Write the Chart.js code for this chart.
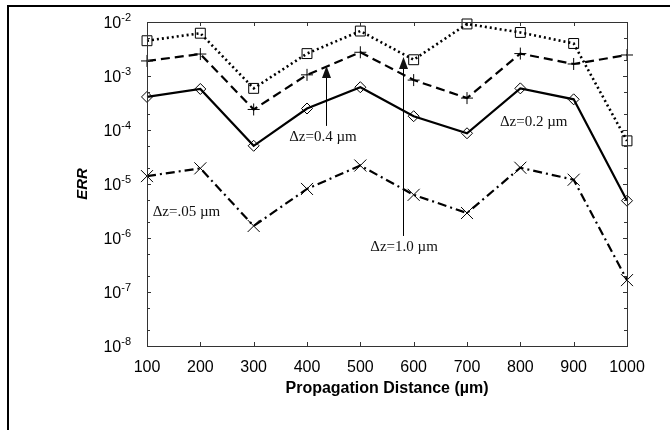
<!DOCTYPE html>
<html>
<head>
<meta charset="utf-8">
<script src="https://cdn.jsdelivr.net/npm/chart.js@4/dist/chart.umd.min.js"></script>
<style>
  body { margin: 0; background: #fff; }
  canvas { display: block; }
</style>
</head>
<body>
<canvas id="errChart" width="670" height="430"></canvas>
<script>
// propagation distances (um)
const distances = [100, 200, 300, 400, 500, 600, 700, 800, 900, 1000];

// ERR for each step size
const errDz10 = [4.5e-3, 6.2e-3, 5.9e-4, 2.6e-3, 6.8e-3, 2.0e-3, 9.2e-3, 6.4e-3, 4.0e-3, 6.3e-5];
const errDz04 = [1.9e-3, 2.55e-3, 2.4e-4, 1.05e-3, 2.75e-3, 8.4e-4, 3.9e-4, 2.6e-3, 1.67e-3, 2.45e-3];
const errDz02 = [4.1e-4, 5.75e-4, 5.1e-5, 2.5e-4, 6.2e-4, 1.8e-4, 8.7e-5, 5.9e-4, 3.7e-4, 4.9e-6];
const errDz005 = [1.4e-5, 1.95e-5, 1.67e-6, 8.1e-6, 2.2e-5, 6.3e-6, 2.9e-6, 2.0e-5, 1.2e-5, 1.66e-7];

// tick labels
const xTicks = [100, 200, 300, 400, 500, 600, 700, 800, 900, 1000];
const yExponents = [-8, -7, -6, -5, -4, -3, -2];

// text labels and arrows, placed in data units
const notes = [
    { text: '\u0394z=0.4 \u00b5m', x: 430, y: 7.4e-5 },
    { text: '\u0394z=1.0 \u00b5m', x: 582, y: 6.8e-7 },
    { text: '\u0394z=0.2 \u00b5m', x: 825, y: 1.4e-4 },
    { text: '\u0394z=.05 \u00b5m', x: 174, y: 3.07e-6 }
];
const arrows = [
    { x: 436, from: 1.19e-4, to: 1.53e-3 },
    { x: 580, from: 1.09e-6, to: 2.25e-3 }
];

function mkSeries(values, style, radius, dash, width) {
    return {
        data: distances.map((d, i) => ({ x: d, y: values[i] })),
        borderColor: '#000',
        borderWidth: width,
        borderDash: dash,
        pointStyle: style,
        pointRadius: radius,
        pointBorderWidth: 1,
        pointBorderColor: '#000',
        pointBackgroundColor: 'rgba(0,0,0,0)',
        tension: 0,
        clip: false
    };
}

// box frame, inward ticks, superscript y labels, notes
const decorPlugin = {
    id: 'decor',
    beforeDraw(chart) {
        const ctx = chart.ctx;
        ctx.save();
        ctx.fillStyle = '#fff';
        ctx.fillRect(0, 0, chart.width, chart.height);
        ctx.strokeStyle = '#000';
        ctx.lineWidth = 2;
        ctx.beginPath();
        ctx.moveTo(8, chart.height);
        ctx.lineTo(8, 6);
        ctx.lineTo(chart.width, 6);
        ctx.stroke();
        ctx.restore();
    },
    afterDraw(chart) {
        const ctx = chart.ctx;
        const a = chart.chartArea;
        const xs = chart.scales.x;
        const ys = chart.scales.y;
        ctx.save();
        ctx.strokeStyle = '#333';
        ctx.lineWidth = 1;
        ctx.strokeRect(a.left + 0.5, a.top + 0.5, a.right - a.left, a.bottom - a.top);

        ctx.beginPath();
        xTicks.forEach(v => {
            const px = Math.round(xs.getPixelForValue(v)) + 0.5;
            ctx.moveTo(px, a.bottom); ctx.lineTo(px, a.bottom - 4);
            ctx.moveTo(px, a.top); ctx.lineTo(px, a.top + 4);
        });
        yExponents.forEach(e => {
            [1, 2, 5].forEach(m => {
                const val = m * Math.pow(10, e);
                if (val > 1e-2) return;
                const py = Math.round(ys.getPixelForValue(val)) + 0.5;
                const len = m === 1 ? 4 : 3;
                ctx.moveTo(a.left, py); ctx.lineTo(a.left + len, py);
                ctx.moveTo(a.right, py); ctx.lineTo(a.right - len, py);
            });
        });
        ctx.stroke();

        // y labels: 10 with exponent
        ctx.fillStyle = '#000';
        ctx.textBaseline = 'alphabetic';
        yExponents.forEach(e => {
            const py = ys.getPixelForValue(Math.pow(10, e));
            const sup = String(e);
            ctx.font = '11px "Liberation Sans", Arial, sans-serif';
            const wSup = ctx.measureText(sup).width;
            ctx.font = '16px "Liberation Sans", Arial, sans-serif';
            const wBase = ctx.measureText('10').width;
            const right = 131;
            ctx.textAlign = 'left';
            ctx.fillText('10', right - wSup - wBase, py + 6);
            ctx.font = '11px "Liberation Sans", Arial, sans-serif';
            ctx.fillText(sup, right - wSup, py - 1);
        });

        // notes
        ctx.font = '15px "Liberation Serif", "Times New Roman", serif';
        ctx.textAlign = 'center';
        ctx.textBaseline = 'middle';
        ctx.fillStyle = '#111';
        notes.forEach(n => {
            ctx.fillText(n.text, xs.getPixelForValue(n.x), ys.getPixelForValue(n.y));
        });

        // arrows
        ctx.strokeStyle = '#000';
        ctx.lineWidth = 1;
        arrows.forEach(ar => {
            const px = Math.round(xs.getPixelForValue(ar.x)) + 0.5;
            const y0 = ys.getPixelForValue(ar.from);
            const y1 = ys.getPixelForValue(ar.to);
            ctx.beginPath();
            ctx.moveTo(px, y0);
            ctx.lineTo(px, y1 + 10);
            ctx.stroke();
            ctx.beginPath();
            ctx.moveTo(px, y1);
            ctx.lineTo(px - 4.5, y1 + 12);
            ctx.lineTo(px + 4.5, y1 + 12);
            ctx.closePath();
            ctx.fill();
        });
        ctx.restore();
    }
};

new Chart(document.getElementById('errChart'), {
    type: 'line',
    data: {
        datasets: [
            mkSeries(errDz10, 'rect', 7, [2, 3], 2.6),
            mkSeries(errDz04, 'cross', 6, [9, 5], 2.2),
            mkSeries(errDz02, 'rectRot', 5.5, [], 2.2),
            mkSeries(errDz005, 'crossRot', 8.5, [9, 4, 2, 4], 2.2)
        ]
    },
    options: {
        responsive: false,
        animation: false,
        devicePixelRatio: 1,
        layout: { padding: { left: 0, top: 22, right: 43, bottom: 0 } },
        plugins: {
            legend: { display: false },
            tooltip: { enabled: false }
        },
        scales: {
            x: {
                type: 'linear',
                min: 100,
                max: 1000,
                grid: { display: false, drawTicks: false },
                border: { display: false },
                ticks: {
                    stepSize: 100,
                    padding: 12,
                    color: '#000',
                    maxRotation: 0,
                    callback: v => String(v),
                    font: { family: '"Liberation Sans", Arial, sans-serif', size: 16 }
                },
                title: {
                    display: true,
                    text: 'Propagation Distance (\u00b5m)',
                    color: '#000',
                    padding: { top: 0, bottom: 32 },
                    font: { family: '"Liberation Sans", Arial, sans-serif', size: 16, weight: 'bold' }
                },
                afterFit(s) { s.height = 84; }
            },
            y: {
                type: 'logarithmic',
                min: 1e-8,
                max: 1e-2,
                grid: { display: false, drawTicks: false },
                border: { display: false },
                ticks: { display: false },
                title: {
                    display: true,
                    text: 'ERR',
                    color: '#000',
                    padding: { top: 74, bottom: 0 },
                    font: { family: '"Liberation Sans", Arial, sans-serif', size: 15, weight: 'bold', style: 'italic' }
                },
                afterFit(s) { s.width = 147; }
            }
        }
    },
    plugins: [decorPlugin]
});
</script>
</body>
</html>
